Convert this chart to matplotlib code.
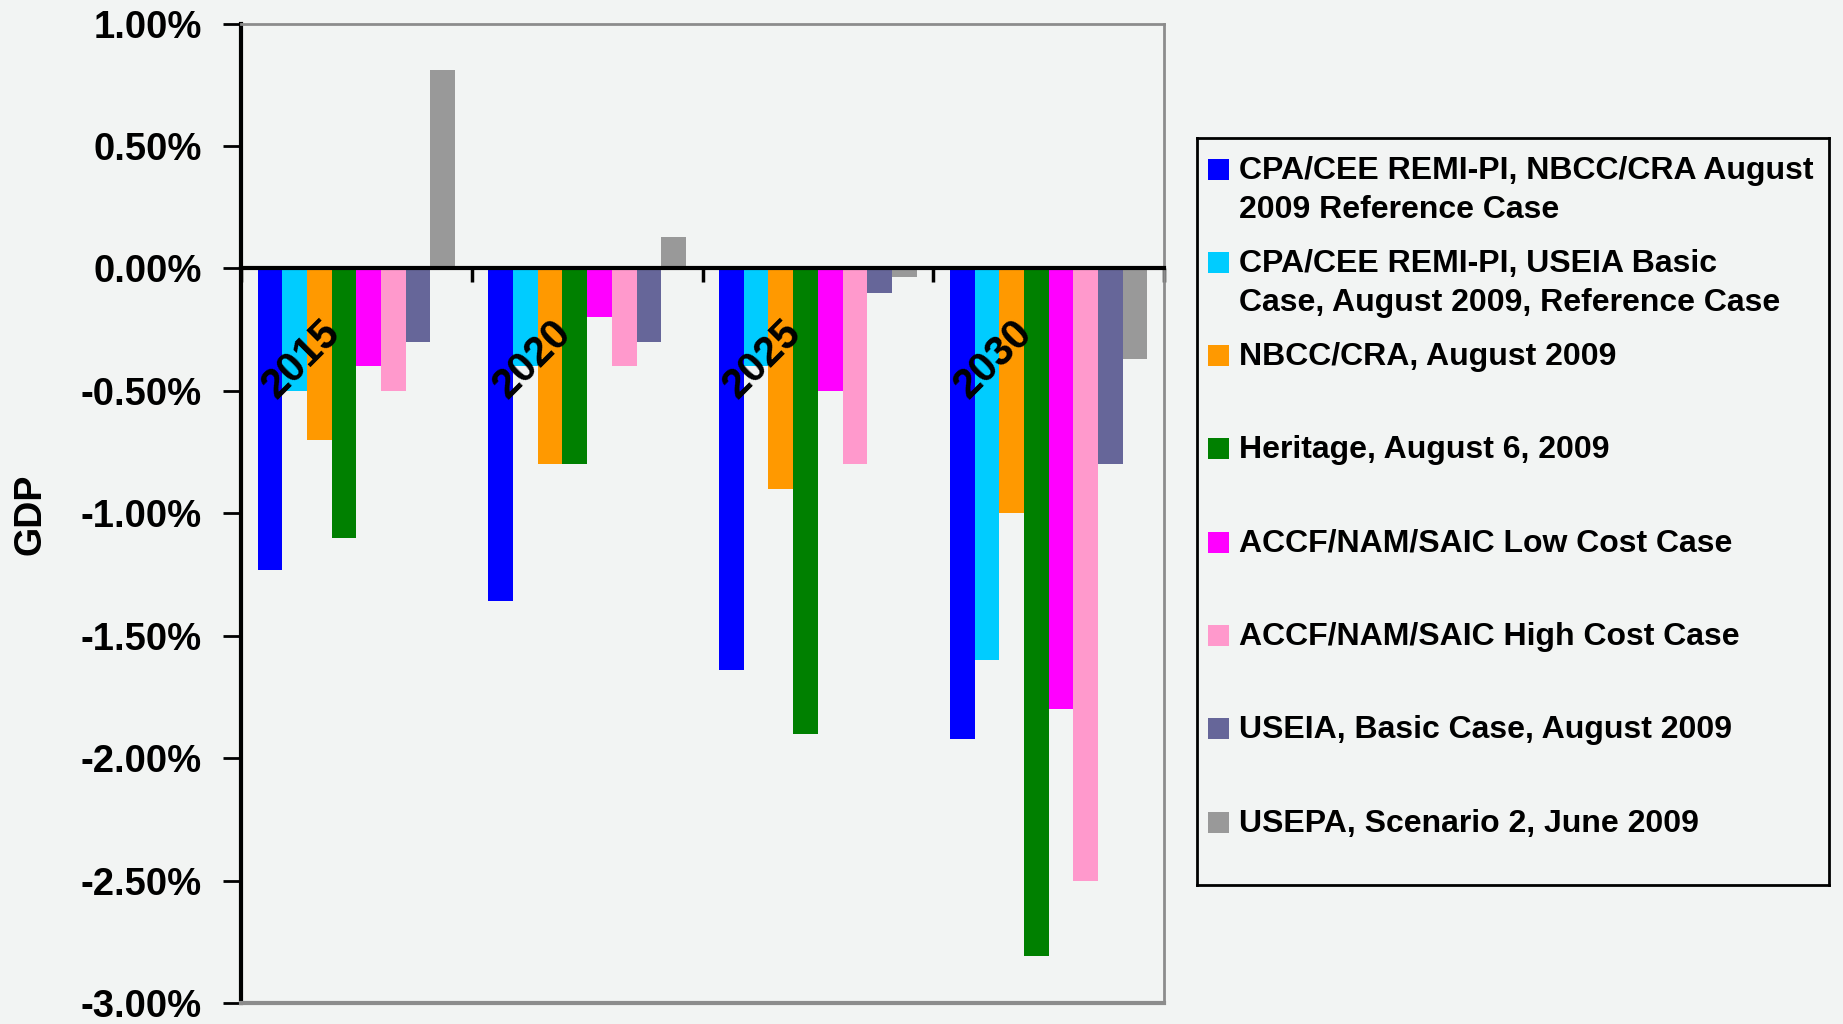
#!/usr/bin/env python3
"""GDP impact estimates of climate legislation by study, grouped by year."""

import matplotlib
matplotlib.use("Agg")
import matplotlib.pyplot as plt
from matplotlib.patches import Rectangle
from matplotlib.ticker import FuncFormatter, MultipleLocator
import numpy as np

years = ["2015", "2020", "2025", "2030"]

series_labels = [
    "CPA/CEE REMI-PI, NBCC/CRA August\n2009 Reference Case",
    "CPA/CEE REMI-PI, USEIA Basic\nCase, August 2009, Reference Case",
    "NBCC/CRA, August 2009",
    "Heritage, August 6, 2009",
    "ACCF/NAM/SAIC Low Cost Case",
    "ACCF/NAM/SAIC High Cost Case",
    "USEIA, Basic Case, August 2009",
    "USEPA, Scenario 2, June 2009",
]

series_colors = [
    "#0000ff", "#00ccff", "#ff9900", "#008000",
    "#ff00ff", "#ff99cc", "#666699", "#999999",
]

# percent change in GDP, one list per study (2015, 2020, 2025, 2030)
cpa_nbcc = [-1.23, -1.36, -1.64, -1.92]
cpa_useia = [-0.50, -0.40, -0.40, -1.60]
nbcc_cra = [-0.70, -0.80, -0.90, -1.00]
heritage = [-1.10, -0.80, -1.90, -2.81]
accf_low = [-0.40, -0.20, -0.50, -1.80]
accf_high = [-0.50, -0.40, -0.80, -2.50]
useia_basic = [-0.30, -0.30, -0.10, -0.80]
usepa_s2 = [0.81, 0.13, -0.035, -0.37]

series_values = [cpa_nbcc, cpa_useia, nbcc_cra, heritage,
                 accf_low, accf_high, useia_basic, usepa_s2]

BG = "#f2f4f3"
FONT = "Liberation Sans"

W, H = 1843, 1024
fig = plt.figure(figsize=(W / 100, H / 100), dpi=100, facecolor=BG)
ax = fig.add_axes([241 / W, 1 - 1003 / H, (1164 - 241) / W, (1003 - 23.5) / H])
ax.set_facecolor(BG)

x = np.arange(len(years))
bar_w = 0.107
n = len(series_values)
for k, (vals, color) in enumerate(zip(series_values, series_colors)):
    offset = (k - (n - 1) / 2) * bar_w
    ax.bar(x + offset, vals, width=bar_w, color=color, linewidth=0, zorder=2)

ax.set_xlim(-0.5, len(years) - 0.5)
ax.set_ylim(-3.0, 1.0)

# y axis: percent ticks
ax.yaxis.set_major_locator(MultipleLocator(0.5))
ax.yaxis.set_major_formatter(FuncFormatter(lambda v, _: "{:.2f}%".format(v)))
ax.tick_params(axis="y", direction="out", length=13, width=2, pad=15,
               labelsize=27.5, colors="black")
for lab in ax.get_yticklabels():
    lab.set_fontfamily(FONT)
    lab.set_fontweight("bold")

# category axis sits on the zero line, ticks between groups
ax.spines["bottom"].set_position(("data", 0))
ax.spines["bottom"].set_linewidth(3)
ax.spines["bottom"].set_zorder(3)
ax.set_xticks(np.arange(-0.5, len(years), 1.0))
ax.set_xticklabels([])
ax.tick_params(axis="x", direction="out", length=10, width=2.5)

ax.spines["left"].set_linewidth(3)
for side in ("top", "right"):
    ax.spines[side].set_color("#8c8c8c")
    ax.spines[side].set_linewidth(2)
ax.axhline(-3.0, color="#8c8c8c", linewidth=3, clip_on=False, zorder=3)

for i, year in enumerate(years):
    ax.annotate(year, xy=(i, 0), xytext=(-6, -32), textcoords="offset points",
                rotation=45, ha="right", va="top", fontsize=30,
                fontweight="bold", family=FONT, zorder=5)

fig.text(30 / W, 1 - 514 / H, "GDP", rotation=90, ha="center", va="center",
         fontsize=27, fontweight="bold", family=FONT)

# legend box with one fixed slot per study
lx0, ly0, lx1, ly1 = 1197, 138, 1829, 885
lax = fig.add_axes([lx0 / W, 1 - ly1 / H, (lx1 - lx0) / W, (ly1 - ly0) / H])
lax.set_xlim(0, lx1 - lx0)
lax.set_ylim(ly1 - ly0, 0)
lax.set_facecolor(BG)
lax.set_xticks([])
lax.set_yticks([])
for sp in lax.spines.values():
    sp.set_linewidth(2)
    sp.set_color("black")

slot = 93.3
for k, (label, color) in enumerate(zip(series_labels, series_colors)):
    cy = 30.5 + k * slot
    lax.add_patch(Rectangle((11, cy - 10), 21, 21, color=color, linewidth=0))
    lax.text(42, cy - 13, label, ha="left", va="top", fontsize=23,
             fontweight="bold", family=FONT, linespacing=1.42)

fig.savefig("out.png", dpi=100, facecolor=BG)
